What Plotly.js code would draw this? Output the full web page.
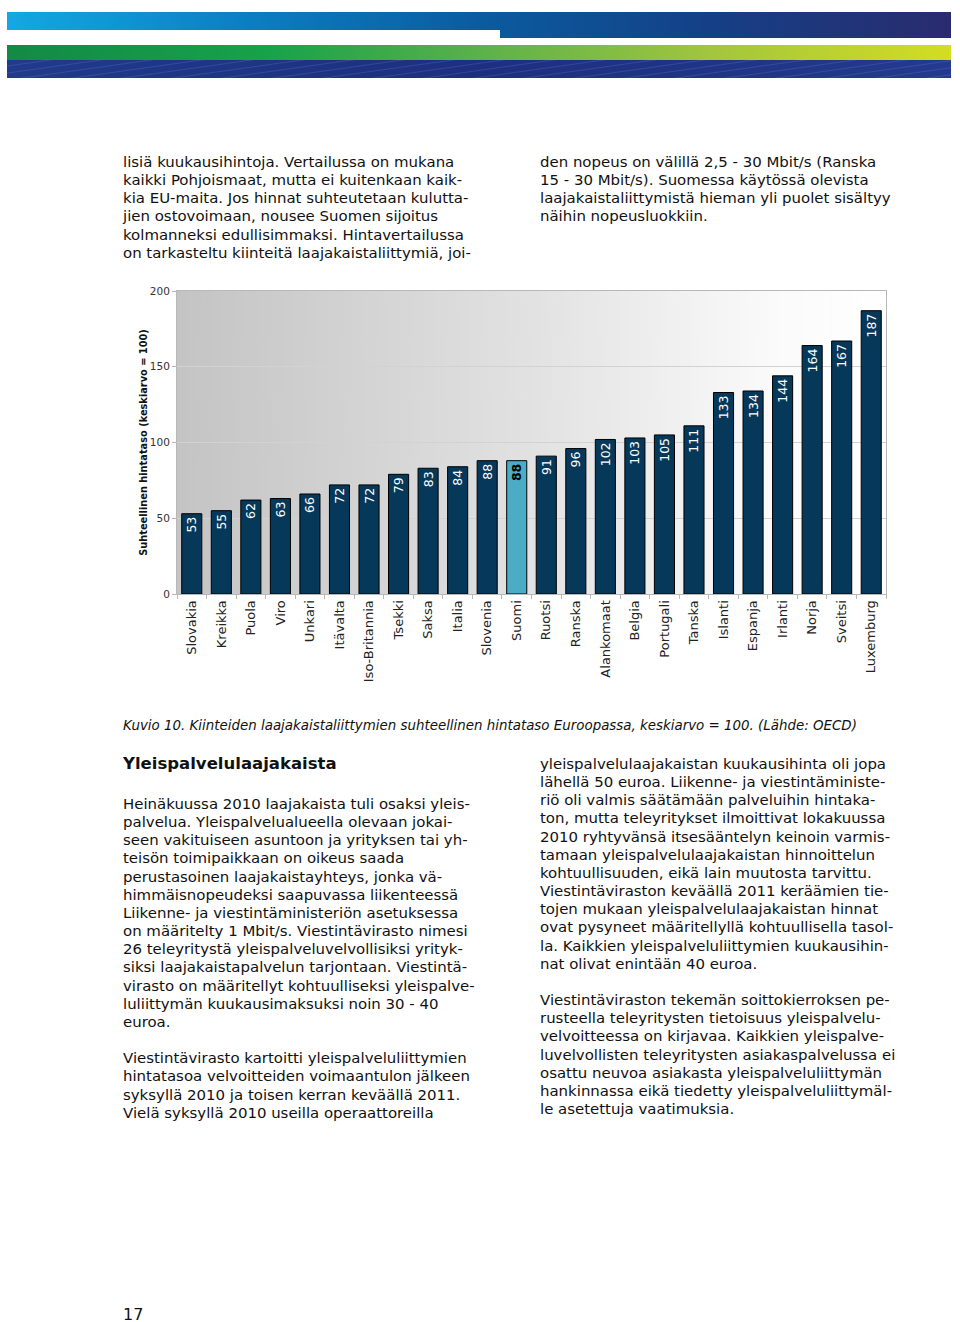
<!DOCTYPE html>
<html>
<head>
<meta charset="utf-8">
<script src="https://cdn.plot.ly/plotly-3.0.1.min.js"></script>
<style>
  html, body { margin:0; padding:0; background:#fff; }
  body { width:960px; height:1322px; position:relative; overflow:hidden; font-family:"DejaVu Sans", Verdana, sans-serif; color:#111; }
  .abs { position:absolute; }
  .txt { font-size:14.95px; line-height:18.15px; white-space:nowrap; }
  .hd { font-size:16.5px; font-weight:bold; white-space:nowrap; }
  .cap { font-size:13.4px; font-style:italic; white-space:nowrap; }
  #chart { position:absolute; left:0; top:280px; width:960px; height:420px; }
</style>
</head>
<body>
<!-- header graphic -->
<div class="abs" style="left:7px;top:12px;width:944px;height:26px;background:linear-gradient(to right,#14a8e2 0%,#0b7fc3 25%,#0a5c9f 50%,#153f86 75%,#2a2b6e 100%);"></div>
<div class="abs" style="left:7px;top:30px;width:493px;height:8px;background:#fff;"></div>
<div class="abs" style="left:7px;top:45px;width:944px;height:15px;background:linear-gradient(to right,#138a45 0%,#18a24b 28%,#5bb14a 50%,#a3c63e 75%,#d3dd22 100%);"></div>
<div class="abs" style="left:7px;top:60px;width:944px;height:18px;background:linear-gradient(to right,#203a8c 0%,#1d2f80 50%,#233a8e 100%);"></div>
<div class="abs" style="left:7px;top:60px;width:944px;height:18px;background:repeating-linear-gradient(172deg,rgba(120,150,220,0) 0px,rgba(120,150,220,0) 5px,rgba(120,150,220,0.22) 6px,rgba(120,150,220,0) 7px);"></div>

<div class="abs txt" style="left:123px;top:153px;">lisiä kuukausihintoja. Vertailussa on mukana<br>kaikki Pohjoismaat, mutta ei kuitenkaan kaik-<br>kia EU-maita. Jos hinnat suhteutetaan kulutta-<br>jien ostovoimaan, nousee Suomen sijoitus<br>kolmanneksi edullisimmaksi. Hintavertailussa<br>on tarkasteltu kiinteitä laajakaistaliittymiä, joi-</div>
<div class="abs txt" style="left:540px;top:153px;">den nopeus on välillä 2,5 - 30 Mbit/s (Ranska<br>15 - 30 Mbit/s). Suomessa käytössä olevista<br>laajakaistaliittymistä hieman yli puolet sisältyy<br>näihin nopeusluokkiin.</div>

<div id="chart"></div>

<div class="abs cap" style="left:123px;top:718px;">Kuvio 10. Kiinteiden laajakaistaliittymien suhteellinen hintataso Euroopassa, keskiarvo = 100. (Lähde: OECD)</div>

<div class="abs hd" style="left:123px;top:754px;">Yleispalvelulaajakaista</div>

<div class="abs txt" style="left:123px;top:795px;">Heinäkuussa 2010 laajakaista tuli osaksi yleis-<br>palvelua. Yleispalvelualueella olevaan jokai-<br>seen vakituiseen asuntoon ja yrityksen tai yh-<br>teisön toimipaikkaan on oikeus saada<br>perustasoinen laajakaistayhteys, jonka vä-<br>himmäisnopeudeksi saapuvassa liikenteessä<br>Liikenne- ja viestintäministeriön asetuksessa<br>on määritelty 1 Mbit/s. Viestintävirasto nimesi<br>26 teleyritystä yleispalveluvelvollisiksi yrityk-<br>siksi laajakaistapalvelun tarjontaan. Viestintä-<br>virasto on määritellyt kohtuulliseksi yleispalve-<br>luliittymän kuukausimaksuksi noin 30 - 40<br>euroa.<br><br>Viestintävirasto kartoitti yleispalveluliittymien<br>hintatasoa velvoitteiden voimaantulon jälkeen<br>syksyllä 2010 ja toisen kerran keväällä 2011.<br>Vielä syksyllä 2010 useilla operaattoreilla</div>

<div class="abs txt" style="left:540px;top:755px;">yleispalvelulaajakaistan kuukausihinta oli jopa<br>lähellä 50 euroa. Liikenne- ja viestintäministe-<br>riö oli valmis säätämään palveluihin hintaka-<br>ton, mutta teleyritykset ilmoittivat lokakuussa<br>2010 ryhtyvänsä itsesääntelyn keinoin varmis-<br>tamaan yleispalvelulaajakaistan hinnoittelun<br>kohtuullisuuden, eikä lain muutosta tarvittu.<br>Viestintäviraston keväällä 2011 keräämien tie-<br>tojen mukaan yleispalvelulaajakaistan hinnat<br>ovat pysyneet määritellyllä kohtuullisella tasol-<br>la. Kaikkien yleispalveluliittymien kuukausihin-<br>nat olivat enintään 40 euroa.<br><br>Viestintäviraston tekemän soittokierroksen pe-<br>rusteella teleyritysten tietoisuus yleispalvelu-<br>velvoitteessa on kirjavaa. Kaikkien yleispalve-<br>luvelvollisten teleyritysten asiakaspalvelussa ei<br>osattu neuvoa asiakasta yleispalveluliittymän<br>hankinnassa eikä tiedetty yleispalveluliittymäl-<br>le asetettuja vaatimuksia.</div>

<div class="abs" style="left:123px;top:1305px;font-size:16px;">17</div>

<script>
const countries = ["Slovakia","Kreikka","Puola","Viro","Unkari","Itävalta","Iso-Britannia","Tsekki","Saksa","Italia","Slovenia","Suomi","Ruotsi","Ranska","Alankomaat","Belgia","Portugali","Tanska","Islanti","Espanja","Irlanti","Norja","Sveitsi","Luxemburg"];
const priceIndex = [53,55,62,63,66,72,72,79,83,84,88,88,91,96,102,103,105,111,133,134,144,164,167,187];
const highlight = "Suomi";
const yTicks = [0,50,100,150,200];
const yTitle = "Suhteellinen hintataso (keskiarvo = 100)";

const navy = "#06385a", light = "#4bacc6";
const barColors = countries.map(c => c === highlight ? light : navy);
const labelColors = countries.map(c => c === highlight ? "#000" : "#fff");
const labels = priceIndex.map((v,i) => countries[i] === highlight ? "<b>" + v + "</b>" : String(v));

// gradient background image for plot area
const cv = document.createElement("canvas");
cv.width = 400; cv.height = 10;
const ctx = cv.getContext("2d");
const g = ctx.createLinearGradient(0,0,400,0);
g.addColorStop(0,"#c4c4c4");
g.addColorStop(0.5,"#e2e2e2");
g.addColorStop(0.85,"#fbfbfb");
g.addColorStop(1,"#ffffff");
ctx.fillStyle = g; ctx.fillRect(0,0,400,10);
const bgURL = cv.toDataURL();

const trace = {
  type: "bar",
  x: countries,
  y: priceIndex,
  marker: { color: barColors, line: { color: "#000", width: 1 } },
  text: labels,
  texttemplate: "%{text}",
  textposition: "inside",
  insidetextanchor: "end",
  textangle: -90,
  constraintext: "none",
  textfont: { family: "DejaVu Sans, sans-serif", size: 12.5, color: labelColors },
  hoverinfo: "x+y"
};

const layout = {
  width: 960, height: 420,
  margin: { l: 177, r: 74, t: 11, b: 106 },
  paper_bgcolor: "rgba(0,0,0,0)",
  plot_bgcolor: "rgba(0,0,0,0)",
  bargap: 0.32,
  showlegend: false,
  font: { family: "DejaVu Sans, sans-serif", color: "#222" },
  xaxis: {
    type: "category",
    tickangle: -90,
    ticks: "outside", tickson: "boundaries", ticklen: 4, tickcolor: "#b8b8b8",
    showline: true, linecolor: "#b8b8b8", mirror: true, linewidth: 1,
    tickfont: { size: 13, color: "#222" },
    showgrid: false
  },
  yaxis: {
    range: [0, 200],
    tickvals: yTicks,
    ticks: "outside", ticklen: 4, tickcolor: "#b8b8b8",
    showline: true, linecolor: "#b8b8b8", mirror: true, linewidth: 1,
    showgrid: true, gridcolor: "#d2d2d2", gridwidth: 1,
    zeroline: false,
    tickfont: { size: 10.5, color: "#333" },
    title: { text: "<b>" + yTitle + "</b>", font: { size: 9.8, color: "#111" }, standoff: 0 }
  },
  images: [{
    source: bgURL, xref: "paper", yref: "paper",
    x: 0, y: 1, sizex: 1, sizey: 1, sizing: "stretch",
    xanchor: "left", yanchor: "top", layer: "below"
  }]
};

Plotly.newPlot("chart", [trace], layout, { displayModeBar: false, staticPlot: true });
</script>
</body>
</html>
